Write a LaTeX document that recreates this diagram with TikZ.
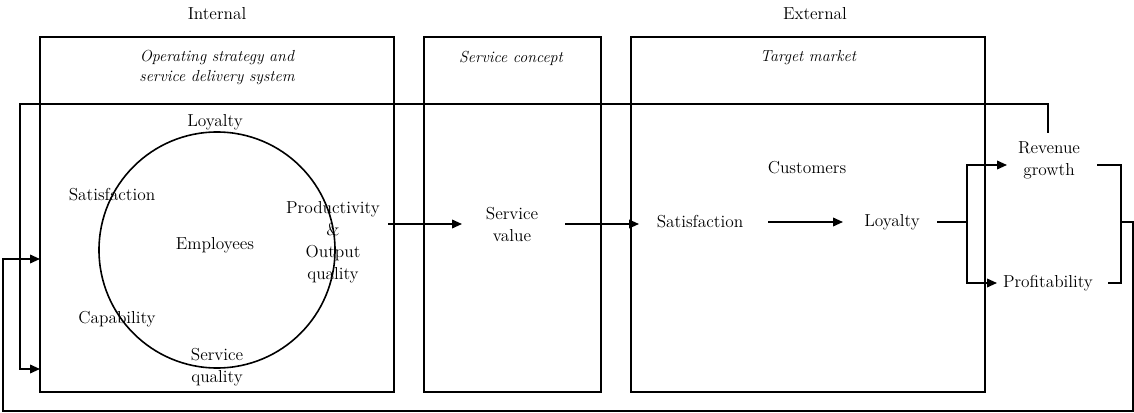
\documentclass[tikz,border=0pt]{standalone}
\usetikzlibrary{arrows.meta,calc}
\begin{document}
\begin{tikzpicture}[x=0.75pt,y=-0.75pt,line width=1.2pt,
  lbl/.style={font=\fontsize{13}{16.5}\selectfont,inner sep=2pt,align=center},
  hd/.style={font=\fontsize{12}{15}\selectfont\itshape,inner sep=1pt,align=center},
  arr/.style={-{Triangle[length=7.5pt,width=6.5pt]}}]
\useasboundingbox (0,0) rectangle (1134,413);

% section headings
\node[lbl] (int) at (217,14) {Internal};
\node[lbl] (ext) at (815,14) {External};

% the three panels
\draw (40,37) rectangle (394,392);
\draw (424,37) rectangle (601,392);
\draw (631,37) rectangle (985,392);
\node[hd] (ops) at (217,68) {Operating strategy and\\service delivery system};
\node[hd] (sc) at (511,58) {Service concept};
\node[hd] (tm) at (808,58) {Target market};

% employee cycle
\node[circle,draw,minimum size=177pt,inner sep=0pt] (circ) at (217,250) {};
\node[lbl] (eloy) at (215,122) {Loyalty};
\node[lbl] (esat) at (112,195) {Satisfaction};
\node[lbl] (emp) at (215,245) {Employees};
\node[lbl] (prod) at (333,242) {Productivity\\\&\\Output\\quality};
\node[lbl] (cap) at (117,319) {Capability};
\node[lbl] (sq) at (217,367) {Service\\quality};

% service value and customers
\node[lbl] (sv) at (512,224) {Service\\value};
\node[lbl] (cust) at (807,168) {Customers};
\node[lbl] (csat) at (700,222) {Satisfaction};
\node[lbl] (cloy) at (892,222) {Loyalty};

% outcomes
\node[lbl] (rev) at (1049,160) {Revenue\\growth};
\node[lbl] (prof) at (1048,283) {Profitability};

% connector end points, kept clear of the labels
\coordinate (pout) at (388,224);
\coordinate (svin) at (462,224);
\coordinate (svout) at (565,224);
\coordinate (csin) at (639,224);
\coordinate (csout) at (768,222);
\coordinate (clin) at (843,222);
\coordinate (clout) at (937,222);
\coordinate (split) at (967,222);
\coordinate (revin) at (1007,165);
\coordinate (profin) at (997,283);
\coordinate (revtop) at (1048,133);
\coordinate (revout) at (1097,165);
\coordinate (profout) at (1108,283);

% forward chain
\draw[arr] (pout) -- (svin);
\draw[arr] (svout) -- (csin);
\draw[arr] (csout) -- (clin);

% loyalty splits into revenue growth and profitability
\draw (clout) -- (split);
\draw[arr] (split) |- (revin);
\draw[arr] (split) |- (profin);

% inner feedback loop from revenue growth
\coordinate (topL) at (20,104);
\coordinate (in2) at (40,369);
\draw[arr] (revtop) |- (topL) |- (in2);

% outer feedback loop joining both outcomes
\coordinate (brT) at (1121,165);
\coordinate (brB) at (1121,283);
\coordinate (brM) at (1121,222);
\coordinate (outR) at (1133,222);
\coordinate (outBR) at (1133,411);
\coordinate (outBL) at (3,411);
\coordinate (in1) at (40,259);
\draw (revout) -- (brT) -- (brB) -- (profout);
\draw[arr] (brM) -- (outR) -- (outBR) -- (outBL) |- (in1);
\end{tikzpicture}
\end{document}
